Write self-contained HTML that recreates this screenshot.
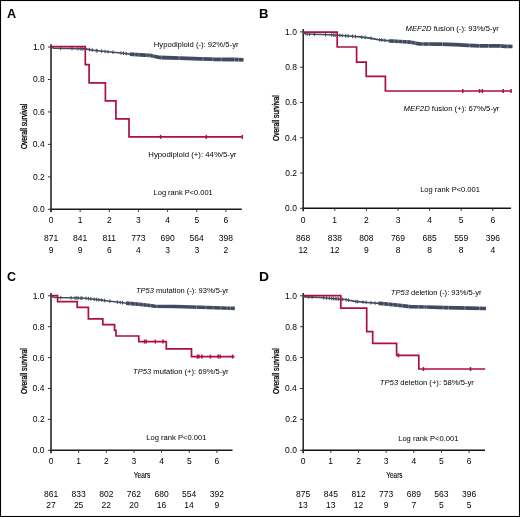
<!DOCTYPE html>
<html><head><meta charset="utf-8"><style>
html,body{margin:0;padding:0;background:#fff;}
svg{display:block;font-family:"Liberation Sans",sans-serif;will-change:transform;}
</style></head><body>
<svg width="520" height="517" viewBox="0 0 520 517">
<rect x="0" y="0" width="520" height="517" fill="#fff"/>
<line x1="51.00" y1="44.20" x2="51.00" y2="212.30" stroke="#4a4a4a" stroke-width="1.90"/>
<line x1="50.05" y1="209.30" x2="241.80" y2="209.30" stroke="#1a1a1a" stroke-width="1.50"/>
<line x1="47.90" y1="209.30" x2="51.00" y2="209.30" stroke="#333" stroke-width="1"/>
<text x="32.90" y="212.20" font-size="8.50" fill="#000">0.0</text>
<line x1="47.90" y1="176.84" x2="51.00" y2="176.84" stroke="#333" stroke-width="1"/>
<text x="33.01" y="179.74" font-size="8.50" fill="#000">0.2</text>
<line x1="47.90" y1="144.38" x2="51.00" y2="144.38" stroke="#333" stroke-width="1"/>
<text x="32.82" y="147.28" font-size="8.50" fill="#000">0.4</text>
<line x1="47.90" y1="111.92" x2="51.00" y2="111.92" stroke="#333" stroke-width="1"/>
<text x="32.95" y="114.82" font-size="8.50" fill="#000">0.6</text>
<line x1="47.90" y1="79.46" x2="51.00" y2="79.46" stroke="#333" stroke-width="1"/>
<text x="32.95" y="82.36" font-size="8.50" fill="#000">0.8</text>
<line x1="47.90" y1="47.00" x2="51.00" y2="47.00" stroke="#333" stroke-width="1"/>
<text x="32.90" y="49.90" font-size="8.50" fill="#000">1.0</text>
<line x1="51.00" y1="209.30" x2="51.00" y2="211.90" stroke="#333" stroke-width="1"/>
<text x="48.63" y="223.00" font-size="8.50" fill="#000">0</text>
<text x="43.93" y="241.00" font-size="8.50" fill="#000">871</text>
<text x="48.63" y="253.00" font-size="8.50" fill="#000">9</text>
<line x1="80.15" y1="209.30" x2="80.15" y2="211.90" stroke="#333" stroke-width="1"/>
<text x="77.67" y="223.00" font-size="8.50" fill="#000">1</text>
<text x="73.08" y="241.00" font-size="8.50" fill="#000">841</text>
<text x="77.78" y="253.00" font-size="8.50" fill="#000">9</text>
<line x1="109.30" y1="209.30" x2="109.30" y2="211.90" stroke="#333" stroke-width="1"/>
<text x="106.94" y="223.00" font-size="8.50" fill="#000">2</text>
<text x="102.55" y="241.00" font-size="8.50" fill="#000">811</text>
<text x="106.91" y="253.00" font-size="8.50" fill="#000">6</text>
<line x1="138.45" y1="209.30" x2="138.45" y2="211.90" stroke="#333" stroke-width="1"/>
<text x="136.11" y="223.00" font-size="8.50" fill="#000">3</text>
<text x="131.32" y="241.00" font-size="8.50" fill="#000">773</text>
<text x="136.11" y="253.00" font-size="8.50" fill="#000">4</text>
<line x1="167.60" y1="209.30" x2="167.60" y2="211.90" stroke="#333" stroke-width="1"/>
<text x="165.26" y="223.00" font-size="8.50" fill="#000">4</text>
<text x="160.46" y="241.00" font-size="8.50" fill="#000">690</text>
<text x="165.26" y="253.00" font-size="8.50" fill="#000">3</text>
<line x1="196.75" y1="209.30" x2="196.75" y2="211.90" stroke="#333" stroke-width="1"/>
<text x="194.39" y="223.00" font-size="8.50" fill="#000">5</text>
<text x="189.61" y="241.00" font-size="8.50" fill="#000">564</text>
<text x="194.41" y="253.00" font-size="8.50" fill="#000">3</text>
<line x1="225.90" y1="209.30" x2="225.90" y2="211.90" stroke="#333" stroke-width="1"/>
<text x="223.51" y="223.00" font-size="8.50" fill="#000">6</text>
<text x="218.83" y="241.00" font-size="8.50" fill="#000">398</text>
<text x="223.54" y="253.00" font-size="8.50" fill="#000">2</text>
<path d="M51.00,47.30 L54.00,48.20 L70.00,48.50 L85.00,48.90 L95.00,50.50 L113.00,52.20 L123.50,53.30 L130.00,54.10 L140.00,54.80 L150.00,55.30 L155.00,56.50 L160.00,57.50 L180.00,58.10 L200.00,58.85 L212.00,59.20 L214.00,59.45 L235.00,59.50 L243.40,59.80" fill="none" stroke="#424a5f" stroke-width="1.60" stroke-linejoin="round"/>
<path d="M130.00,54.10 L140.00,54.80 L150.00,55.30 L155.00,56.50 L160.00,57.50 L180.00,58.10 L200.00,58.85 L212.00,59.20 L214.00,59.45 L235.00,59.50 L243.40,59.80" fill="none" stroke="#424a5f" stroke-width="3.80" stroke-linejoin="round"/>
<line x1="134.80" y1="52.14" x2="134.80" y2="53.94" stroke="#fff" stroke-opacity="0.55" stroke-width="0.8"/>
<line x1="134.80" y1="54.94" x2="134.80" y2="56.74" stroke="#fff" stroke-opacity="0.55" stroke-width="0.8"/>
<line x1="138.80" y1="52.42" x2="138.80" y2="54.22" stroke="#fff" stroke-opacity="0.55" stroke-width="0.8"/>
<line x1="138.80" y1="55.22" x2="138.80" y2="57.02" stroke="#fff" stroke-opacity="0.55" stroke-width="0.8"/>
<line x1="146.90" y1="52.84" x2="146.90" y2="54.64" stroke="#fff" stroke-opacity="0.55" stroke-width="0.8"/>
<line x1="146.90" y1="55.64" x2="146.90" y2="57.44" stroke="#fff" stroke-opacity="0.55" stroke-width="0.8"/>
<line x1="149.80" y1="52.99" x2="149.80" y2="54.79" stroke="#fff" stroke-opacity="0.55" stroke-width="0.8"/>
<line x1="149.80" y1="55.79" x2="149.80" y2="57.59" stroke="#fff" stroke-opacity="0.55" stroke-width="0.8"/>
<line x1="153.30" y1="53.79" x2="153.30" y2="55.59" stroke="#fff" stroke-opacity="0.55" stroke-width="0.8"/>
<line x1="153.30" y1="56.59" x2="153.30" y2="58.39" stroke="#fff" stroke-opacity="0.55" stroke-width="0.8"/>
<line x1="161.30" y1="55.24" x2="161.30" y2="57.04" stroke="#fff" stroke-opacity="0.55" stroke-width="0.8"/>
<line x1="161.30" y1="58.04" x2="161.30" y2="59.84" stroke="#fff" stroke-opacity="0.55" stroke-width="0.8"/>
<line x1="179.20" y1="55.78" x2="179.20" y2="57.58" stroke="#fff" stroke-opacity="0.55" stroke-width="0.8"/>
<line x1="179.20" y1="58.58" x2="179.20" y2="60.38" stroke="#fff" stroke-opacity="0.55" stroke-width="0.8"/>
<line x1="202.90" y1="56.63" x2="202.90" y2="58.43" stroke="#fff" stroke-opacity="0.55" stroke-width="0.8"/>
<line x1="202.90" y1="59.43" x2="202.90" y2="61.23" stroke="#fff" stroke-opacity="0.55" stroke-width="0.8"/>
<line x1="212.70" y1="56.99" x2="212.70" y2="58.79" stroke="#fff" stroke-opacity="0.55" stroke-width="0.8"/>
<line x1="212.70" y1="59.79" x2="212.70" y2="61.59" stroke="#fff" stroke-opacity="0.55" stroke-width="0.8"/>
<line x1="221.30" y1="57.17" x2="221.30" y2="58.97" stroke="#fff" stroke-opacity="0.55" stroke-width="0.8"/>
<line x1="221.30" y1="59.97" x2="221.30" y2="61.77" stroke="#fff" stroke-opacity="0.55" stroke-width="0.8"/>
<line x1="234.60" y1="57.20" x2="234.60" y2="59.00" stroke="#fff" stroke-opacity="0.55" stroke-width="0.8"/>
<line x1="234.60" y1="60.00" x2="234.60" y2="61.80" stroke="#fff" stroke-opacity="0.55" stroke-width="0.8"/>
<line x1="238.60" y1="57.33" x2="238.60" y2="59.13" stroke="#fff" stroke-opacity="0.55" stroke-width="0.8"/>
<line x1="238.60" y1="60.13" x2="238.60" y2="61.93" stroke="#fff" stroke-opacity="0.55" stroke-width="0.8"/>
<line x1="60.60" y1="46.52" x2="60.60" y2="50.12" stroke="#424a5f" stroke-width="1.0"/>
<line x1="72.00" y1="46.75" x2="72.00" y2="50.35" stroke="#424a5f" stroke-width="1.0"/>
<line x1="77.90" y1="46.91" x2="77.90" y2="50.51" stroke="#424a5f" stroke-width="1.0"/>
<line x1="80.80" y1="46.99" x2="80.80" y2="50.59" stroke="#424a5f" stroke-width="1.0"/>
<line x1="82.70" y1="47.04" x2="82.70" y2="50.64" stroke="#424a5f" stroke-width="1.0"/>
<line x1="89.40" y1="47.80" x2="89.40" y2="51.40" stroke="#424a5f" stroke-width="1.0"/>
<line x1="92.30" y1="48.27" x2="92.30" y2="51.87" stroke="#424a5f" stroke-width="1.0"/>
<line x1="96.20" y1="48.81" x2="96.20" y2="52.41" stroke="#424a5f" stroke-width="1.0"/>
<line x1="97.20" y1="48.91" x2="97.20" y2="52.51" stroke="#424a5f" stroke-width="1.0"/>
<line x1="101.50" y1="49.31" x2="101.50" y2="52.91" stroke="#424a5f" stroke-width="1.0"/>
<line x1="105.10" y1="49.65" x2="105.10" y2="53.25" stroke="#424a5f" stroke-width="1.0"/>
<line x1="108.00" y1="49.93" x2="108.00" y2="53.53" stroke="#424a5f" stroke-width="1.0"/>
<line x1="113.00" y1="50.40" x2="113.00" y2="54.00" stroke="#424a5f" stroke-width="1.0"/>
<line x1="121.00" y1="51.24" x2="121.00" y2="54.84" stroke="#424a5f" stroke-width="1.0"/>
<line x1="123.50" y1="51.50" x2="123.50" y2="55.10" stroke="#424a5f" stroke-width="1.0"/>
<line x1="126.20" y1="51.83" x2="126.20" y2="55.43" stroke="#424a5f" stroke-width="1.0"/>
<path d="M51.00,46.60 L85.30,46.60 L85.30,64.70 L89.10,64.70 L89.10,82.80 L105.40,82.80 L105.40,100.90 L115.90,100.90 L115.90,118.80 L129.00,118.80 L129.00,136.90 L242.30,136.90" fill="none" stroke="#ad0f3f" stroke-width="1.7" stroke-linejoin="miter"/>
<line x1="160.60" y1="134.90" x2="160.60" y2="138.90" stroke="#ad0f3f" stroke-width="1.5"/>
<line x1="206.30" y1="134.90" x2="206.30" y2="138.90" stroke="#ad0f3f" stroke-width="1.5"/>
<line x1="242.30" y1="134.90" x2="242.30" y2="138.90" stroke="#ad0f3f" stroke-width="1.5"/>
<text x="153.77" y="47.30" font-size="8.00" textLength="84.75" lengthAdjust="spacingAndGlyphs" fill="#000">Hypodiploid (-): 92%/5-yr</text>
<text x="148.26" y="157.00" font-size="8.00" textLength="88.17" lengthAdjust="spacingAndGlyphs" fill="#000">Hypodiploid (+): 44%/5-yr</text>
<text x="153.58" y="195.40" font-size="8.00" textLength="59.18" lengthAdjust="spacingAndGlyphs" fill="#000">Log rank P&lt;0.001</text>
<text transform="translate(27.00,148.80) rotate(-90)" x="-0.31" y="0" font-size="9" textLength="45.26" lengthAdjust="spacingAndGlyphs" fill="#000" stroke="#000" stroke-width="0.3">Overall survival</text>
<text x="6.98" y="17.50" font-size="12.60" textLength="9.16" lengthAdjust="spacingAndGlyphs" fill="#000" font-weight="bold">A</text>
<line x1="303.20" y1="29.10" x2="303.20" y2="211.30" stroke="#111" stroke-width="1.40"/>
<line x1="302.50" y1="208.30" x2="511.00" y2="208.30" stroke="#111" stroke-width="1.40"/>
<line x1="300.10" y1="208.30" x2="303.20" y2="208.30" stroke="#333" stroke-width="1"/>
<text x="285.10" y="211.20" font-size="8.50" fill="#000">0.0</text>
<line x1="300.10" y1="173.02" x2="303.20" y2="173.02" stroke="#333" stroke-width="1"/>
<text x="285.21" y="175.92" font-size="8.50" fill="#000">0.2</text>
<line x1="300.10" y1="137.74" x2="303.20" y2="137.74" stroke="#333" stroke-width="1"/>
<text x="285.02" y="140.64" font-size="8.50" fill="#000">0.4</text>
<line x1="300.10" y1="102.46" x2="303.20" y2="102.46" stroke="#333" stroke-width="1"/>
<text x="285.15" y="105.36" font-size="8.50" fill="#000">0.6</text>
<line x1="300.10" y1="67.18" x2="303.20" y2="67.18" stroke="#333" stroke-width="1"/>
<text x="285.15" y="70.08" font-size="8.50" fill="#000">0.8</text>
<line x1="300.10" y1="31.90" x2="303.20" y2="31.90" stroke="#333" stroke-width="1"/>
<text x="285.10" y="34.80" font-size="8.50" fill="#000">1.0</text>
<line x1="303.20" y1="208.30" x2="303.20" y2="210.90" stroke="#333" stroke-width="1"/>
<text x="300.83" y="223.00" font-size="8.50" fill="#000">0</text>
<text x="296.11" y="241.00" font-size="8.50" fill="#000">868</text>
<text x="298.38" y="253.00" font-size="8.50" fill="#000">12</text>
<line x1="334.80" y1="208.30" x2="334.80" y2="210.90" stroke="#333" stroke-width="1"/>
<text x="332.32" y="223.00" font-size="8.50" fill="#000">1</text>
<text x="327.71" y="241.00" font-size="8.50" fill="#000">838</text>
<text x="329.98" y="253.00" font-size="8.50" fill="#000">12</text>
<line x1="366.40" y1="208.30" x2="366.40" y2="210.90" stroke="#333" stroke-width="1"/>
<text x="364.04" y="223.00" font-size="8.50" fill="#000">2</text>
<text x="359.31" y="241.00" font-size="8.50" fill="#000">808</text>
<text x="364.03" y="253.00" font-size="8.50" fill="#000">9</text>
<line x1="398.00" y1="208.30" x2="398.00" y2="210.90" stroke="#333" stroke-width="1"/>
<text x="395.66" y="223.00" font-size="8.50" fill="#000">3</text>
<text x="390.88" y="241.00" font-size="8.50" fill="#000">769</text>
<text x="395.64" y="253.00" font-size="8.50" fill="#000">8</text>
<line x1="429.60" y1="208.30" x2="429.60" y2="210.90" stroke="#333" stroke-width="1"/>
<text x="427.26" y="223.00" font-size="8.50" fill="#000">4</text>
<text x="422.47" y="241.00" font-size="8.50" fill="#000">685</text>
<text x="427.24" y="253.00" font-size="8.50" fill="#000">8</text>
<line x1="461.20" y1="208.30" x2="461.20" y2="210.90" stroke="#333" stroke-width="1"/>
<text x="458.84" y="223.00" font-size="8.50" fill="#000">5</text>
<text x="454.13" y="241.00" font-size="8.50" fill="#000">559</text>
<text x="458.84" y="253.00" font-size="8.50" fill="#000">8</text>
<line x1="492.80" y1="208.30" x2="492.80" y2="210.90" stroke="#333" stroke-width="1"/>
<text x="490.41" y="223.00" font-size="8.50" fill="#000">6</text>
<text x="485.73" y="241.00" font-size="8.50" fill="#000">396</text>
<text x="490.46" y="253.00" font-size="8.50" fill="#000">4</text>
<path d="M303.20,33.00 L306.00,34.00 L330.00,34.80 L345.00,35.70 L360.00,36.90 L370.00,38.10 L378.00,39.60 L390.00,40.90 L400.00,41.50 L410.00,42.10 L416.00,43.30 L420.00,43.80 L440.00,44.10 L455.00,44.60 L468.00,45.30 L480.00,45.80 L500.00,45.80 L505.00,46.40 L512.40,46.50" fill="none" stroke="#424a5f" stroke-width="1.60" stroke-linejoin="round"/>
<path d="M389.00,40.79 L390.00,40.90 L400.00,41.50 L410.00,42.10 L416.00,43.30 L420.00,43.80 L440.00,44.10 L455.00,44.60 L468.00,45.30 L480.00,45.80 L500.00,45.80 L505.00,46.40 L512.40,46.50" fill="none" stroke="#424a5f" stroke-width="3.70" stroke-linejoin="round"/>
<line x1="394.40" y1="38.86" x2="394.40" y2="40.66" stroke="#fff" stroke-opacity="0.55" stroke-width="0.8"/>
<line x1="394.40" y1="41.66" x2="394.40" y2="43.46" stroke="#fff" stroke-opacity="0.55" stroke-width="0.8"/>
<line x1="398.10" y1="39.09" x2="398.10" y2="40.89" stroke="#fff" stroke-opacity="0.55" stroke-width="0.8"/>
<line x1="398.10" y1="41.89" x2="398.10" y2="43.69" stroke="#fff" stroke-opacity="0.55" stroke-width="0.8"/>
<line x1="402.50" y1="39.35" x2="402.50" y2="41.15" stroke="#fff" stroke-opacity="0.55" stroke-width="0.8"/>
<line x1="402.50" y1="42.15" x2="402.50" y2="43.95" stroke="#fff" stroke-opacity="0.55" stroke-width="0.8"/>
<line x1="406.90" y1="39.61" x2="406.90" y2="41.41" stroke="#fff" stroke-opacity="0.55" stroke-width="0.8"/>
<line x1="406.90" y1="42.41" x2="406.90" y2="44.21" stroke="#fff" stroke-opacity="0.55" stroke-width="0.8"/>
<line x1="411.30" y1="40.06" x2="411.30" y2="41.86" stroke="#fff" stroke-opacity="0.55" stroke-width="0.8"/>
<line x1="411.30" y1="42.86" x2="411.30" y2="44.66" stroke="#fff" stroke-opacity="0.55" stroke-width="0.8"/>
<line x1="415.00" y1="40.80" x2="415.00" y2="42.60" stroke="#fff" stroke-opacity="0.55" stroke-width="0.8"/>
<line x1="415.00" y1="43.60" x2="415.00" y2="45.40" stroke="#fff" stroke-opacity="0.55" stroke-width="0.8"/>
<line x1="423.10" y1="41.55" x2="423.10" y2="43.35" stroke="#fff" stroke-opacity="0.55" stroke-width="0.8"/>
<line x1="423.10" y1="44.35" x2="423.10" y2="46.15" stroke="#fff" stroke-opacity="0.55" stroke-width="0.8"/>
<line x1="428.80" y1="41.63" x2="428.80" y2="43.43" stroke="#fff" stroke-opacity="0.55" stroke-width="0.8"/>
<line x1="428.80" y1="44.43" x2="428.80" y2="46.23" stroke="#fff" stroke-opacity="0.55" stroke-width="0.8"/>
<line x1="442.50" y1="41.88" x2="442.50" y2="43.68" stroke="#fff" stroke-opacity="0.55" stroke-width="0.8"/>
<line x1="442.50" y1="44.68" x2="442.50" y2="46.48" stroke="#fff" stroke-opacity="0.55" stroke-width="0.8"/>
<line x1="469.30" y1="43.05" x2="469.30" y2="44.85" stroke="#fff" stroke-opacity="0.55" stroke-width="0.8"/>
<line x1="469.30" y1="45.85" x2="469.30" y2="47.65" stroke="#fff" stroke-opacity="0.55" stroke-width="0.8"/>
<line x1="479.60" y1="43.48" x2="479.60" y2="45.28" stroke="#fff" stroke-opacity="0.55" stroke-width="0.8"/>
<line x1="479.60" y1="46.28" x2="479.60" y2="48.08" stroke="#fff" stroke-opacity="0.55" stroke-width="0.8"/>
<line x1="488.60" y1="43.50" x2="488.60" y2="45.30" stroke="#fff" stroke-opacity="0.55" stroke-width="0.8"/>
<line x1="488.60" y1="46.30" x2="488.60" y2="48.10" stroke="#fff" stroke-opacity="0.55" stroke-width="0.8"/>
<line x1="500.80" y1="43.60" x2="500.80" y2="45.40" stroke="#fff" stroke-opacity="0.55" stroke-width="0.8"/>
<line x1="500.80" y1="46.40" x2="500.80" y2="48.20" stroke="#fff" stroke-opacity="0.55" stroke-width="0.8"/>
<line x1="507.30" y1="44.13" x2="507.30" y2="45.93" stroke="#fff" stroke-opacity="0.55" stroke-width="0.8"/>
<line x1="507.30" y1="46.93" x2="507.30" y2="48.73" stroke="#fff" stroke-opacity="0.55" stroke-width="0.8"/>
<line x1="307.20" y1="32.24" x2="307.20" y2="35.84" stroke="#424a5f" stroke-width="1.0"/>
<line x1="309.60" y1="32.32" x2="309.60" y2="35.92" stroke="#424a5f" stroke-width="1.0"/>
<line x1="314.40" y1="32.48" x2="314.40" y2="36.08" stroke="#424a5f" stroke-width="1.0"/>
<line x1="325.50" y1="32.85" x2="325.50" y2="36.45" stroke="#424a5f" stroke-width="1.0"/>
<line x1="331.70" y1="33.10" x2="331.70" y2="36.70" stroke="#424a5f" stroke-width="1.0"/>
<line x1="333.70" y1="33.22" x2="333.70" y2="36.82" stroke="#424a5f" stroke-width="1.0"/>
<line x1="335.10" y1="33.31" x2="335.10" y2="36.91" stroke="#424a5f" stroke-width="1.0"/>
<line x1="339.90" y1="33.59" x2="339.90" y2="37.19" stroke="#424a5f" stroke-width="1.0"/>
<line x1="342.30" y1="33.74" x2="342.30" y2="37.34" stroke="#424a5f" stroke-width="1.0"/>
<line x1="345.70" y1="33.96" x2="345.70" y2="37.56" stroke="#424a5f" stroke-width="1.0"/>
<line x1="348.10" y1="34.15" x2="348.10" y2="37.75" stroke="#424a5f" stroke-width="1.0"/>
<line x1="352.50" y1="34.50" x2="352.50" y2="38.10" stroke="#424a5f" stroke-width="1.0"/>
<line x1="355.40" y1="34.73" x2="355.40" y2="38.33" stroke="#424a5f" stroke-width="1.0"/>
<line x1="361.70" y1="35.30" x2="361.70" y2="38.90" stroke="#424a5f" stroke-width="1.0"/>
<line x1="365.20" y1="35.72" x2="365.20" y2="39.32" stroke="#424a5f" stroke-width="1.0"/>
<line x1="371.00" y1="36.49" x2="371.00" y2="40.09" stroke="#424a5f" stroke-width="1.0"/>
<line x1="379.60" y1="37.97" x2="379.60" y2="41.57" stroke="#424a5f" stroke-width="1.0"/>
<line x1="381.90" y1="38.22" x2="381.90" y2="41.82" stroke="#424a5f" stroke-width="1.0"/>
<line x1="384.80" y1="38.54" x2="384.80" y2="42.14" stroke="#424a5f" stroke-width="1.0"/>
<path d="M303.20,32.10 L337.20,32.10 L337.20,47.00 L356.60,47.00 L356.60,62.10 L366.20,62.10 L366.20,76.30 L385.40,76.30 L385.40,91.00 L511.50,91.00" fill="none" stroke="#ad0f3f" stroke-width="1.7" stroke-linejoin="miter"/>
<line x1="462.80" y1="89.00" x2="462.80" y2="93.00" stroke="#ad0f3f" stroke-width="1.5"/>
<line x1="479.60" y1="89.00" x2="479.60" y2="93.00" stroke="#ad0f3f" stroke-width="1.5"/>
<line x1="482.40" y1="89.00" x2="482.40" y2="93.00" stroke="#ad0f3f" stroke-width="1.5"/>
<line x1="503.20" y1="89.00" x2="503.20" y2="93.00" stroke="#ad0f3f" stroke-width="1.5"/>
<line x1="511.00" y1="89.00" x2="511.00" y2="93.00" stroke="#ad0f3f" stroke-width="1.5"/>
<text x="405.57" y="30.90" font-size="8.00" textLength="93.34" lengthAdjust="spacingAndGlyphs" fill="#000"><tspan font-style="italic">MEF2D</tspan> fusion (-): 93%/5-yr</text>
<text x="403.57" y="110.80" font-size="8.00" textLength="95.85" lengthAdjust="spacingAndGlyphs" fill="#000"><tspan font-style="italic">MEF2D</tspan> fusion (+): 67%/5-yr</text>
<text x="420.18" y="191.60" font-size="8.00" textLength="59.79" lengthAdjust="spacingAndGlyphs" fill="#000">Log rank P&lt;0.001</text>
<text transform="translate(279.00,140.60) rotate(-90)" x="-0.32" y="0" font-size="9" textLength="45.57" lengthAdjust="spacingAndGlyphs" fill="#000" stroke="#000" stroke-width="0.3">Overall survival</text>
<text x="259.11" y="17.50" font-size="12.60" textLength="9.47" lengthAdjust="spacingAndGlyphs" fill="#000" font-weight="bold">B</text>
<line x1="51.00" y1="293.00" x2="51.00" y2="453.30" stroke="#4a4a4a" stroke-width="1.90"/>
<line x1="50.05" y1="450.30" x2="232.50" y2="450.30" stroke="#1a1a1a" stroke-width="1.50"/>
<line x1="47.90" y1="450.30" x2="51.00" y2="450.30" stroke="#333" stroke-width="1"/>
<text x="32.70" y="453.20" font-size="8.50" fill="#000">0.0</text>
<line x1="47.90" y1="419.40" x2="51.00" y2="419.40" stroke="#333" stroke-width="1"/>
<text x="32.81" y="422.30" font-size="8.50" fill="#000">0.2</text>
<line x1="47.90" y1="388.50" x2="51.00" y2="388.50" stroke="#333" stroke-width="1"/>
<text x="32.62" y="391.40" font-size="8.50" fill="#000">0.4</text>
<line x1="47.90" y1="357.60" x2="51.00" y2="357.60" stroke="#333" stroke-width="1"/>
<text x="32.75" y="360.50" font-size="8.50" fill="#000">0.6</text>
<line x1="47.90" y1="326.70" x2="51.00" y2="326.70" stroke="#333" stroke-width="1"/>
<text x="32.75" y="329.60" font-size="8.50" fill="#000">0.8</text>
<line x1="47.90" y1="295.80" x2="51.00" y2="295.80" stroke="#333" stroke-width="1"/>
<text x="32.70" y="298.70" font-size="8.50" fill="#000">1.0</text>
<line x1="51.00" y1="450.30" x2="51.00" y2="452.90" stroke="#333" stroke-width="1"/>
<text x="48.63" y="464.20" font-size="8.50" fill="#000">0</text>
<text x="43.93" y="497.00" font-size="8.50" fill="#000">861</text>
<text x="46.28" y="508.20" font-size="8.50" fill="#000">27</text>
<line x1="78.65" y1="450.30" x2="78.65" y2="452.90" stroke="#333" stroke-width="1"/>
<text x="76.17" y="464.20" font-size="8.50" fill="#000">1</text>
<text x="71.56" y="497.00" font-size="8.50" fill="#000">833</text>
<text x="73.89" y="508.20" font-size="8.50" fill="#000">25</text>
<line x1="106.30" y1="450.30" x2="106.30" y2="452.90" stroke="#333" stroke-width="1"/>
<text x="103.94" y="464.20" font-size="8.50" fill="#000">2</text>
<text x="99.24" y="497.00" font-size="8.50" fill="#000">802</text>
<text x="101.58" y="508.20" font-size="8.50" fill="#000">22</text>
<line x1="133.95" y1="450.30" x2="133.95" y2="452.90" stroke="#333" stroke-width="1"/>
<text x="131.61" y="464.20" font-size="8.50" fill="#000">3</text>
<text x="126.85" y="497.00" font-size="8.50" fill="#000">762</text>
<text x="129.18" y="508.20" font-size="8.50" fill="#000">20</text>
<line x1="161.60" y1="450.30" x2="161.60" y2="452.90" stroke="#333" stroke-width="1"/>
<text x="159.26" y="464.20" font-size="8.50" fill="#000">4</text>
<text x="154.46" y="497.00" font-size="8.50" fill="#000">680</text>
<text x="156.74" y="508.20" font-size="8.50" fill="#000">16</text>
<line x1="189.25" y1="450.30" x2="189.25" y2="452.90" stroke="#333" stroke-width="1"/>
<text x="186.89" y="464.20" font-size="8.50" fill="#000">5</text>
<text x="182.11" y="497.00" font-size="8.50" fill="#000">554</text>
<text x="184.33" y="508.20" font-size="8.50" fill="#000">14</text>
<line x1="216.90" y1="450.30" x2="216.90" y2="452.90" stroke="#333" stroke-width="1"/>
<text x="214.51" y="464.20" font-size="8.50" fill="#000">6</text>
<text x="209.87" y="497.00" font-size="8.50" fill="#000">392</text>
<text x="214.53" y="508.20" font-size="8.50" fill="#000">9</text>
<path d="M51.00,296.30 L55.00,297.50 L70.00,297.80 L85.00,298.30 L100.00,299.90 L108.00,301.00 L115.00,301.80 L125.00,303.00 L140.00,304.40 L150.00,305.50 L155.00,306.20 L175.00,306.50 L200.00,307.30 L230.00,308.30 L234.70,308.40" fill="none" stroke="#424a5f" stroke-width="1.60" stroke-linejoin="round"/>
<path d="M126.00,303.09 L140.00,304.40 L150.00,305.50 L155.00,306.20 L175.00,306.50 L200.00,307.30 L230.00,308.30 L234.70,308.40" fill="none" stroke="#424a5f" stroke-width="3.60" stroke-linejoin="round"/>
<line x1="130.40" y1="301.20" x2="130.40" y2="303.00" stroke="#fff" stroke-opacity="0.55" stroke-width="0.8"/>
<line x1="130.40" y1="304.00" x2="130.40" y2="305.80" stroke="#fff" stroke-opacity="0.55" stroke-width="0.8"/>
<line x1="135.00" y1="301.63" x2="135.00" y2="303.43" stroke="#fff" stroke-opacity="0.55" stroke-width="0.8"/>
<line x1="135.00" y1="304.43" x2="135.00" y2="306.23" stroke="#fff" stroke-opacity="0.55" stroke-width="0.8"/>
<line x1="139.00" y1="302.01" x2="139.00" y2="303.81" stroke="#fff" stroke-opacity="0.55" stroke-width="0.8"/>
<line x1="139.00" y1="304.81" x2="139.00" y2="306.61" stroke="#fff" stroke-opacity="0.55" stroke-width="0.8"/>
<line x1="143.10" y1="302.44" x2="143.10" y2="304.24" stroke="#fff" stroke-opacity="0.55" stroke-width="0.8"/>
<line x1="143.10" y1="305.24" x2="143.10" y2="307.04" stroke="#fff" stroke-opacity="0.55" stroke-width="0.8"/>
<line x1="147.10" y1="302.88" x2="147.10" y2="304.68" stroke="#fff" stroke-opacity="0.55" stroke-width="0.8"/>
<line x1="147.10" y1="305.68" x2="147.10" y2="307.48" stroke="#fff" stroke-opacity="0.55" stroke-width="0.8"/>
<line x1="150.60" y1="303.28" x2="150.60" y2="305.08" stroke="#fff" stroke-opacity="0.55" stroke-width="0.8"/>
<line x1="150.60" y1="306.08" x2="150.60" y2="307.88" stroke="#fff" stroke-opacity="0.55" stroke-width="0.8"/>
<line x1="156.90" y1="303.93" x2="156.90" y2="305.73" stroke="#fff" stroke-opacity="0.55" stroke-width="0.8"/>
<line x1="156.90" y1="306.73" x2="156.90" y2="308.53" stroke="#fff" stroke-opacity="0.55" stroke-width="0.8"/>
<line x1="196.50" y1="304.89" x2="196.50" y2="306.69" stroke="#fff" stroke-opacity="0.55" stroke-width="0.8"/>
<line x1="196.50" y1="307.69" x2="196.50" y2="309.49" stroke="#fff" stroke-opacity="0.55" stroke-width="0.8"/>
<line x1="205.70" y1="305.19" x2="205.70" y2="306.99" stroke="#fff" stroke-opacity="0.55" stroke-width="0.8"/>
<line x1="205.70" y1="307.99" x2="205.70" y2="309.79" stroke="#fff" stroke-opacity="0.55" stroke-width="0.8"/>
<line x1="213.20" y1="305.44" x2="213.20" y2="307.24" stroke="#fff" stroke-opacity="0.55" stroke-width="0.8"/>
<line x1="213.20" y1="308.24" x2="213.20" y2="310.04" stroke="#fff" stroke-opacity="0.55" stroke-width="0.8"/>
<line x1="220.70" y1="305.69" x2="220.70" y2="307.49" stroke="#fff" stroke-opacity="0.55" stroke-width="0.8"/>
<line x1="220.70" y1="308.49" x2="220.70" y2="310.29" stroke="#fff" stroke-opacity="0.55" stroke-width="0.8"/>
<line x1="227.00" y1="305.90" x2="227.00" y2="307.70" stroke="#fff" stroke-opacity="0.55" stroke-width="0.8"/>
<line x1="227.00" y1="308.70" x2="227.00" y2="310.50" stroke="#fff" stroke-opacity="0.55" stroke-width="0.8"/>
<line x1="230.50" y1="306.01" x2="230.50" y2="307.81" stroke="#fff" stroke-opacity="0.55" stroke-width="0.8"/>
<line x1="230.50" y1="308.81" x2="230.50" y2="310.61" stroke="#fff" stroke-opacity="0.55" stroke-width="0.8"/>
<line x1="60.70" y1="295.81" x2="60.70" y2="299.41" stroke="#424a5f" stroke-width="1.0"/>
<line x1="71.10" y1="296.04" x2="71.10" y2="299.64" stroke="#424a5f" stroke-width="1.0"/>
<line x1="75.10" y1="296.17" x2="75.10" y2="299.77" stroke="#424a5f" stroke-width="1.0"/>
<line x1="76.80" y1="296.23" x2="76.80" y2="299.83" stroke="#424a5f" stroke-width="1.0"/>
<line x1="78.20" y1="296.27" x2="78.20" y2="299.87" stroke="#424a5f" stroke-width="1.0"/>
<line x1="80.90" y1="296.36" x2="80.90" y2="299.96" stroke="#424a5f" stroke-width="1.0"/>
<line x1="82.00" y1="296.40" x2="82.00" y2="300.00" stroke="#424a5f" stroke-width="1.0"/>
<line x1="86.00" y1="296.61" x2="86.00" y2="300.21" stroke="#424a5f" stroke-width="1.0"/>
<line x1="88.40" y1="296.86" x2="88.40" y2="300.46" stroke="#424a5f" stroke-width="1.0"/>
<line x1="90.70" y1="297.11" x2="90.70" y2="300.71" stroke="#424a5f" stroke-width="1.0"/>
<line x1="94.10" y1="297.47" x2="94.10" y2="301.07" stroke="#424a5f" stroke-width="1.0"/>
<line x1="96.40" y1="297.72" x2="96.40" y2="301.32" stroke="#424a5f" stroke-width="1.0"/>
<line x1="98.80" y1="297.97" x2="98.80" y2="301.57" stroke="#424a5f" stroke-width="1.0"/>
<line x1="101.70" y1="298.33" x2="101.70" y2="301.93" stroke="#424a5f" stroke-width="1.0"/>
<line x1="104.60" y1="298.73" x2="104.60" y2="302.33" stroke="#424a5f" stroke-width="1.0"/>
<line x1="109.80" y1="299.41" x2="109.80" y2="303.01" stroke="#424a5f" stroke-width="1.0"/>
<line x1="117.30" y1="300.28" x2="117.30" y2="303.88" stroke="#424a5f" stroke-width="1.0"/>
<line x1="120.20" y1="300.62" x2="120.20" y2="304.22" stroke="#424a5f" stroke-width="1.0"/>
<line x1="122.50" y1="300.90" x2="122.50" y2="304.50" stroke="#424a5f" stroke-width="1.0"/>
<path d="M51.00,295.70 L57.60,295.70 L57.60,301.60 L77.20,301.60 L77.20,307.40 L88.40,307.40 L88.40,318.90 L102.80,318.90 L102.80,324.70 L114.60,324.70 L114.60,330.30 L116.00,330.30 L116.00,336.00 L138.80,336.00 L138.80,341.60 L166.30,341.60 L166.30,348.90 L191.50,348.90 L191.50,356.60 L234.50,356.60" fill="none" stroke="#ad0f3f" stroke-width="1.7" stroke-linejoin="miter"/>
<line x1="144.50" y1="339.60" x2="144.50" y2="343.60" stroke="#ad0f3f" stroke-width="1.5"/>
<line x1="146.20" y1="339.60" x2="146.20" y2="343.60" stroke="#ad0f3f" stroke-width="1.5"/>
<line x1="155.30" y1="339.60" x2="155.30" y2="343.60" stroke="#ad0f3f" stroke-width="1.5"/>
<line x1="163.00" y1="339.60" x2="163.00" y2="343.60" stroke="#ad0f3f" stroke-width="1.5"/>
<line x1="197.40" y1="354.60" x2="197.40" y2="358.60" stroke="#ad0f3f" stroke-width="1.5"/>
<line x1="198.90" y1="354.60" x2="198.90" y2="358.60" stroke="#ad0f3f" stroke-width="1.5"/>
<line x1="201.80" y1="354.60" x2="201.80" y2="358.60" stroke="#ad0f3f" stroke-width="1.5"/>
<line x1="210.40" y1="354.60" x2="210.40" y2="358.60" stroke="#ad0f3f" stroke-width="1.5"/>
<line x1="218.20" y1="354.60" x2="218.20" y2="358.60" stroke="#ad0f3f" stroke-width="1.5"/>
<line x1="220.20" y1="354.60" x2="220.20" y2="358.60" stroke="#ad0f3f" stroke-width="1.5"/>
<line x1="232.60" y1="354.60" x2="232.60" y2="358.60" stroke="#ad0f3f" stroke-width="1.5"/>
<text x="135.92" y="293.20" font-size="8.00" textLength="92.69" lengthAdjust="spacingAndGlyphs" fill="#000"><tspan font-style="italic">TP53</tspan> mutation (-): 93%/5-yr</text>
<text x="133.12" y="373.60" font-size="8.00" textLength="95.51" lengthAdjust="spacingAndGlyphs" fill="#000"><tspan font-style="italic">TP53</tspan> mutation (+): 69%/5-yr</text>
<text x="146.27" y="439.50" font-size="8.00" textLength="60.29" lengthAdjust="spacingAndGlyphs" fill="#000">Log rank P&lt;0.001</text>
<text transform="translate(27.10,393.70) rotate(-90)" x="-0.32" y="0" font-size="9" textLength="45.77" lengthAdjust="spacingAndGlyphs" fill="#000" stroke="#000" stroke-width="0.3">Overall survival</text>
<text x="133.75" y="477.90" font-size="9.60" textLength="16.48" lengthAdjust="spacingAndGlyphs" fill="#000" stroke="#000" stroke-width="0.12">Years</text>
<text x="7.00" y="280.90" font-size="12.60" textLength="9.04" lengthAdjust="spacingAndGlyphs" fill="#000" font-weight="bold">C</text>
<line x1="303.20" y1="293.00" x2="303.20" y2="453.30" stroke="#111" stroke-width="1.40"/>
<line x1="302.50" y1="450.30" x2="485.00" y2="450.30" stroke="#111" stroke-width="1.40"/>
<line x1="300.10" y1="450.30" x2="303.20" y2="450.30" stroke="#333" stroke-width="1"/>
<text x="285.10" y="453.20" font-size="8.50" fill="#000">0.0</text>
<line x1="300.10" y1="419.40" x2="303.20" y2="419.40" stroke="#333" stroke-width="1"/>
<text x="285.21" y="422.30" font-size="8.50" fill="#000">0.2</text>
<line x1="300.10" y1="388.50" x2="303.20" y2="388.50" stroke="#333" stroke-width="1"/>
<text x="285.02" y="391.40" font-size="8.50" fill="#000">0.4</text>
<line x1="300.10" y1="357.60" x2="303.20" y2="357.60" stroke="#333" stroke-width="1"/>
<text x="285.15" y="360.50" font-size="8.50" fill="#000">0.6</text>
<line x1="300.10" y1="326.70" x2="303.20" y2="326.70" stroke="#333" stroke-width="1"/>
<text x="285.15" y="329.60" font-size="8.50" fill="#000">0.8</text>
<line x1="300.10" y1="295.80" x2="303.20" y2="295.80" stroke="#333" stroke-width="1"/>
<text x="285.10" y="298.70" font-size="8.50" fill="#000">1.0</text>
<line x1="303.20" y1="450.30" x2="303.20" y2="452.90" stroke="#333" stroke-width="1"/>
<text x="300.83" y="464.20" font-size="8.50" fill="#000">0</text>
<text x="296.10" y="497.00" font-size="8.50" fill="#000">875</text>
<text x="298.34" y="508.20" font-size="8.50" fill="#000">13</text>
<line x1="330.85" y1="450.30" x2="330.85" y2="452.90" stroke="#333" stroke-width="1"/>
<text x="328.37" y="464.20" font-size="8.50" fill="#000">1</text>
<text x="323.75" y="497.00" font-size="8.50" fill="#000">845</text>
<text x="325.99" y="508.20" font-size="8.50" fill="#000">13</text>
<line x1="358.50" y1="450.30" x2="358.50" y2="452.90" stroke="#333" stroke-width="1"/>
<text x="356.14" y="464.20" font-size="8.50" fill="#000">2</text>
<text x="351.44" y="497.00" font-size="8.50" fill="#000">812</text>
<text x="353.68" y="508.20" font-size="8.50" fill="#000">12</text>
<line x1="386.15" y1="450.30" x2="386.15" y2="452.90" stroke="#333" stroke-width="1"/>
<text x="383.81" y="464.20" font-size="8.50" fill="#000">3</text>
<text x="379.02" y="497.00" font-size="8.50" fill="#000">773</text>
<text x="383.78" y="508.20" font-size="8.50" fill="#000">9</text>
<line x1="413.80" y1="450.30" x2="413.80" y2="452.90" stroke="#333" stroke-width="1"/>
<text x="411.46" y="464.20" font-size="8.50" fill="#000">4</text>
<text x="406.69" y="497.00" font-size="8.50" fill="#000">689</text>
<text x="411.43" y="508.20" font-size="8.50" fill="#000">7</text>
<line x1="441.45" y1="450.30" x2="441.45" y2="452.90" stroke="#333" stroke-width="1"/>
<text x="439.09" y="464.20" font-size="8.50" fill="#000">5</text>
<text x="434.37" y="497.00" font-size="8.50" fill="#000">563</text>
<text x="439.09" y="508.20" font-size="8.50" fill="#000">5</text>
<line x1="469.10" y1="450.30" x2="469.10" y2="452.90" stroke="#333" stroke-width="1"/>
<text x="466.71" y="464.20" font-size="8.50" fill="#000">6</text>
<text x="462.03" y="497.00" font-size="8.50" fill="#000">396</text>
<text x="466.74" y="508.20" font-size="8.50" fill="#000">5</text>
<path d="M303.20,296.30 L305.00,296.90 L320.00,297.50 L335.00,298.70 L345.00,299.50 L355.00,301.40 L370.00,302.70 L380.00,303.40 L395.00,304.80 L410.00,306.70 L425.00,307.00 L445.00,307.70 L470.00,308.10 L486.00,308.50" fill="none" stroke="#424a5f" stroke-width="1.60" stroke-linejoin="round"/>
<path d="M378.50,303.29 L380.00,303.40 L395.00,304.80 L410.00,306.70 L425.00,307.00 L445.00,307.70 L470.00,308.10 L486.00,308.50" fill="none" stroke="#424a5f" stroke-width="3.70" stroke-linejoin="round"/>
<line x1="383.80" y1="301.45" x2="383.80" y2="303.25" stroke="#fff" stroke-opacity="0.55" stroke-width="0.8"/>
<line x1="383.80" y1="304.25" x2="383.80" y2="306.05" stroke="#fff" stroke-opacity="0.55" stroke-width="0.8"/>
<line x1="388.50" y1="301.89" x2="388.50" y2="303.69" stroke="#fff" stroke-opacity="0.55" stroke-width="0.8"/>
<line x1="388.50" y1="304.69" x2="388.50" y2="306.49" stroke="#fff" stroke-opacity="0.55" stroke-width="0.8"/>
<line x1="393.10" y1="302.32" x2="393.10" y2="304.12" stroke="#fff" stroke-opacity="0.55" stroke-width="0.8"/>
<line x1="393.10" y1="305.12" x2="393.10" y2="306.92" stroke="#fff" stroke-opacity="0.55" stroke-width="0.8"/>
<line x1="397.70" y1="302.84" x2="397.70" y2="304.64" stroke="#fff" stroke-opacity="0.55" stroke-width="0.8"/>
<line x1="397.70" y1="305.64" x2="397.70" y2="307.44" stroke="#fff" stroke-opacity="0.55" stroke-width="0.8"/>
<line x1="402.30" y1="303.42" x2="402.30" y2="305.22" stroke="#fff" stroke-opacity="0.55" stroke-width="0.8"/>
<line x1="402.30" y1="306.22" x2="402.30" y2="308.02" stroke="#fff" stroke-opacity="0.55" stroke-width="0.8"/>
<line x1="408.40" y1="304.20" x2="408.40" y2="306.00" stroke="#fff" stroke-opacity="0.55" stroke-width="0.8"/>
<line x1="408.40" y1="307.00" x2="408.40" y2="308.80" stroke="#fff" stroke-opacity="0.55" stroke-width="0.8"/>
<line x1="418.40" y1="304.57" x2="418.40" y2="306.37" stroke="#fff" stroke-opacity="0.55" stroke-width="0.8"/>
<line x1="418.40" y1="307.37" x2="418.40" y2="309.17" stroke="#fff" stroke-opacity="0.55" stroke-width="0.8"/>
<line x1="424.20" y1="304.68" x2="424.20" y2="306.48" stroke="#fff" stroke-opacity="0.55" stroke-width="0.8"/>
<line x1="424.20" y1="307.48" x2="424.20" y2="309.28" stroke="#fff" stroke-opacity="0.55" stroke-width="0.8"/>
<line x1="426.50" y1="304.75" x2="426.50" y2="306.55" stroke="#fff" stroke-opacity="0.55" stroke-width="0.8"/>
<line x1="426.50" y1="307.55" x2="426.50" y2="309.35" stroke="#fff" stroke-opacity="0.55" stroke-width="0.8"/>
<line x1="443.30" y1="305.34" x2="443.30" y2="307.14" stroke="#fff" stroke-opacity="0.55" stroke-width="0.8"/>
<line x1="443.30" y1="308.14" x2="443.30" y2="309.94" stroke="#fff" stroke-opacity="0.55" stroke-width="0.8"/>
<line x1="448.40" y1="305.45" x2="448.40" y2="307.25" stroke="#fff" stroke-opacity="0.55" stroke-width="0.8"/>
<line x1="448.40" y1="308.25" x2="448.40" y2="310.05" stroke="#fff" stroke-opacity="0.55" stroke-width="0.8"/>
<line x1="464.90" y1="305.72" x2="464.90" y2="307.52" stroke="#fff" stroke-opacity="0.55" stroke-width="0.8"/>
<line x1="464.90" y1="308.52" x2="464.90" y2="310.32" stroke="#fff" stroke-opacity="0.55" stroke-width="0.8"/>
<line x1="479.60" y1="306.04" x2="479.60" y2="307.84" stroke="#fff" stroke-opacity="0.55" stroke-width="0.8"/>
<line x1="479.60" y1="308.84" x2="479.60" y2="310.64" stroke="#fff" stroke-opacity="0.55" stroke-width="0.8"/>
<line x1="308.70" y1="295.25" x2="308.70" y2="298.85" stroke="#424a5f" stroke-width="1.0"/>
<line x1="312.10" y1="295.38" x2="312.10" y2="298.98" stroke="#424a5f" stroke-width="1.0"/>
<line x1="323.60" y1="295.99" x2="323.60" y2="299.59" stroke="#424a5f" stroke-width="1.0"/>
<line x1="326.50" y1="296.22" x2="326.50" y2="299.82" stroke="#424a5f" stroke-width="1.0"/>
<line x1="329.40" y1="296.45" x2="329.40" y2="300.05" stroke="#424a5f" stroke-width="1.0"/>
<line x1="331.70" y1="296.64" x2="331.70" y2="300.24" stroke="#424a5f" stroke-width="1.0"/>
<line x1="333.40" y1="296.77" x2="333.40" y2="300.37" stroke="#424a5f" stroke-width="1.0"/>
<line x1="335.20" y1="296.92" x2="335.20" y2="300.52" stroke="#424a5f" stroke-width="1.0"/>
<line x1="336.90" y1="297.05" x2="336.90" y2="300.65" stroke="#424a5f" stroke-width="1.0"/>
<line x1="338.60" y1="297.19" x2="338.60" y2="300.79" stroke="#424a5f" stroke-width="1.0"/>
<line x1="342.70" y1="297.52" x2="342.70" y2="301.12" stroke="#424a5f" stroke-width="1.0"/>
<line x1="346.10" y1="297.91" x2="346.10" y2="301.51" stroke="#424a5f" stroke-width="1.0"/>
<line x1="348.40" y1="298.35" x2="348.40" y2="301.95" stroke="#424a5f" stroke-width="1.0"/>
<line x1="355.90" y1="299.68" x2="355.90" y2="303.28" stroke="#424a5f" stroke-width="1.0"/>
<line x1="357.70" y1="299.83" x2="357.70" y2="303.43" stroke="#424a5f" stroke-width="1.0"/>
<line x1="363.00" y1="300.29" x2="363.00" y2="303.89" stroke="#424a5f" stroke-width="1.0"/>
<line x1="366.00" y1="300.55" x2="366.00" y2="304.15" stroke="#424a5f" stroke-width="1.0"/>
<line x1="371.00" y1="300.97" x2="371.00" y2="304.57" stroke="#424a5f" stroke-width="1.0"/>
<line x1="375.00" y1="301.25" x2="375.00" y2="304.85" stroke="#424a5f" stroke-width="1.0"/>
<path d="M303.20,295.70 L340.80,295.70 L340.80,308.10 L366.70,308.10 L366.70,331.70 L372.70,331.70 L372.70,343.40 L396.60,343.40 L396.60,355.40 L418.80,355.40 L418.80,369.00 L485.20,369.00" fill="none" stroke="#ad0f3f" stroke-width="1.7" stroke-linejoin="miter"/>
<line x1="398.50" y1="353.40" x2="398.50" y2="357.40" stroke="#ad0f3f" stroke-width="1.5"/>
<line x1="423.40" y1="367.00" x2="423.40" y2="371.00" stroke="#ad0f3f" stroke-width="1.5"/>
<line x1="470.50" y1="367.00" x2="470.50" y2="371.00" stroke="#ad0f3f" stroke-width="1.5"/>
<text x="390.82" y="294.80" font-size="8.00" textLength="90.80" lengthAdjust="spacingAndGlyphs" fill="#000"><tspan font-style="italic">TP53</tspan> deletion (-): 93%/5-yr</text>
<text x="379.81" y="385.30" font-size="8.00" textLength="94.12" lengthAdjust="spacingAndGlyphs" fill="#000"><tspan font-style="italic">TP53</tspan> deletion (+): 58%/5-yr</text>
<text x="398.17" y="441.10" font-size="8.00" textLength="60.29" lengthAdjust="spacingAndGlyphs" fill="#000">Log rank P&lt;0.001</text>
<text transform="translate(279.10,393.70) rotate(-90)" x="-0.32" y="0" font-size="9" textLength="45.77" lengthAdjust="spacingAndGlyphs" fill="#000" stroke="#000" stroke-width="0.3">Overall survival</text>
<text x="386.36" y="477.90" font-size="9.60" textLength="16.17" lengthAdjust="spacingAndGlyphs" fill="#000" stroke="#000" stroke-width="0.12">Years</text>
<text x="258.96" y="280.90" font-size="12.60" textLength="10.02" lengthAdjust="spacingAndGlyphs" fill="#000" font-weight="bold">D</text>
<rect x="0.5" y="0.5" width="519" height="516" fill="none" stroke="#000" stroke-width="1.1"/>
</svg>
</body></html>
